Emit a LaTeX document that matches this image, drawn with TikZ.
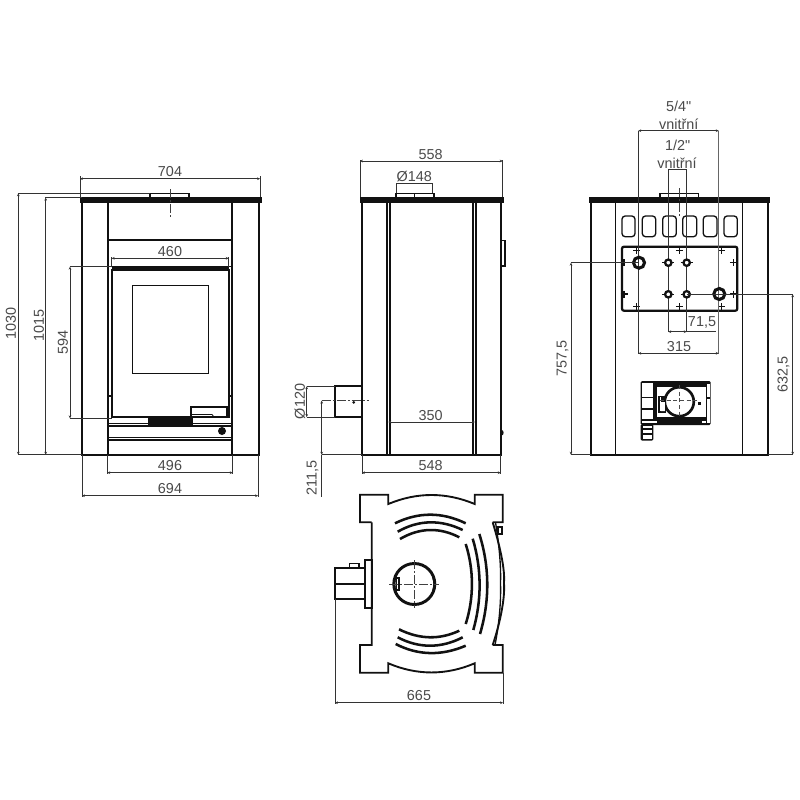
\documentclass[tikz,border=0pt]{standalone}
\usepackage{fontspec}
\setmainfont{Liberation Sans}
\newfontfamily\plainfont{Liberation Sans}
\usetikzlibrary{arrows.meta}
\definecolor{ink}{HTML}{111111}
\definecolor{lab}{HTML}{4A4A4A}
\tikzset{
 x=0.75pt,y=-0.75pt,
 outl/.style={draw=ink,line width=1.4pt},
 thk/.style={draw=ink,line width=2.2pt},
 med/.style={draw=ink,line width=1pt},
 thn/.style={draw=ink,line width=0.6pt},
 rib/.style={draw=ink,line width=1.9pt},
 blk/.style={fill=ink,draw=ink,line width=0.3pt},
 ext/.style={draw=black!80,line width=0.6pt},
 dimn/.style={draw=black!80,line width=0.6pt,{Stealth[length=2.2pt,width=2pt]}-{Stealth[length=2.2pt,width=2pt]}},
 cen/.style={draw=black!75,line width=0.5pt,dash pattern=on 7pt off 1.5pt on 1.2pt off 1.5pt},
 lbl/.style={text=lab,font=\fontsize{10.8pt}{12pt}\selectfont,inner sep=0pt},
 lblr/.style={lbl,rotate=90},
}
\begin{document}
\begin{tikzpicture}
\useasboundingbox[fill=white] (0,0) rectangle (800,800);

% ===== FRONT VIEW =====
\draw[blk] (80,197.3) rectangle (261,202);
\draw[med] (150,197) |- (189,193.5) -- (189,197);
\draw[outl] (82,202) -- (82,454.7) -- (258.7,454.7) -- (258.7,202);
\draw[thk] (108,202) -- (108,240) -- (232,240) -- (232,202);
\draw[med] (108,240) -- (108,454);
\draw[med] (232,240) -- (232,454);
\draw[thk] (108,438) -- (108,454.7);
\draw[thk] (232,438) -- (232,454.7);
\draw[cen] (170,189) -- (170,217);
% door
\draw[med] (108,266.5) -- (232,266.5);
\draw[outl] (111.7,270) rectangle (228.7,416.7);
\draw[med] (111.7,268) -- (228.7,268);
\draw[thn] (229,270) -- (229,397);
\draw[med] (132.3,285.3) rectangle (208.3,373.3);
\draw[outl] (191,417) -- (191,406.7) -- (227,406.7) -- (227,417);
\draw[thn] (191,414.5) -- (212,414.5) -- (214,417);
\draw[med] (108,396) -- (111,396);
\draw[med] (232,396) -- (229,396);
\draw[blk] (148,418) rectangle (192,424);
\draw[thn] (108,423.5) -- (232,423.5);
\draw[outl] (108,426) -- (232,426);
\draw[outl] (108,437.5) -- (232,437.5);
\draw[outl] (108,440) -- (232,440);
\fill[ink] (222,431) circle (4);
% front dimensions
\draw[ext] (80,197) -- (80,176);
\draw[ext] (260,197) -- (260,176);
\draw[dimn] (80,178.7) -- (260,178.7);
\node[lbl] (d704) at (170,172) {704};
\draw[ext] (18,193.3) -- (150,193.3);
\draw[ext] (18,454.7) -- (82,454.7);
\draw[dimn] (18.3,193.3) -- (18.3,454.7);
\node[lblr] (d1030) at (11,323) {1030};
\draw[ext] (45,197.5) -- (82,197.5);
\draw[dimn] (45.7,197.7) -- (45.7,454.7);
\node[lblr] (d1015) at (39,325) {1015};
\draw[ext] (70,266.7) -- (112,266.7);
\draw[ext] (70,418.3) -- (112,418.3);
\draw[dimn] (70,266.7) -- (70,418.3);
\node[lblr] (d594) at (63,342) {594};
\draw[ext] (111.7,257) -- (111.7,267);
\draw[ext] (228.7,257) -- (228.7,267);
\draw[dimn] (111.7,258.3) -- (228.7,258.3);
\node[lbl] (d460) at (170,251.5) {460};
\draw[ext] (107.7,455) -- (107.7,474);
\draw[ext] (232.7,455) -- (232.7,474);
\draw[dimn] (107.3,472.7) -- (232.7,472.7);
\node[lbl] (d496) at (170,466) {496};
\draw[ext] (82,455) -- (82,497);
\draw[ext] (258,455) -- (258,497);
\draw[dimn] (82,495.7) -- (258,495.7);
\node[lbl] (d694) at (170,489) {694};

% ===== SIDE VIEW =====
\draw[blk] (360,197.3) rectangle (502.7,202);
\draw[med] (396,197) |- (434,193.3) -- (434,197);
\draw[thn] (414.7,193.5) -- (414.7,197);
\draw[outl] (362,202) -- (362,454.7) -- (500.7,454.7) -- (500.7,202);
\draw[med] (387,202) -- (387,454.7);
\draw[med] (390,202) -- (390,454.7);
\draw[med] (473,202) -- (473,454.7);
\draw[med] (476,202) -- (476,454.7);
\draw[med] (500.7,240.7) -| (505,266) -- (500.7,266);
\fill[ink] (502,432.7) ellipse (1.6 and 2.6);
\draw[outl] (362,386.3) -- (334.7,386.3) -- (334.7,417) -- (362,417);
\draw[cen] (321.7,400.7) -- (369.3,400.7);
\fill[ink] (353.7,402.3) circle (1.5);
% side dimensions
\draw[ext] (360,160) -- (360,197);
\draw[ext] (502.7,160) -- (502.7,197);
\draw[dimn] (360,161) -- (502.7,161);
\node[lbl] (d558) at (430.7,155) {558};
\draw[ext] (396,183) -- (396,193);
\draw[ext] (432.7,183) -- (432.7,193);
\draw[ext] (396,183.3) -- (432.7,183.3);
\node[lbl] (d148) at (414.3,176.7) {Ø148};
\draw[dimn] (388.3,422) -- (475,422);
\node[lbl] (d350) at (430.7,415.7) {350};
\draw[ext] (306.7,386.3) -- (334.7,386.3);
\draw[ext] (306.7,417) -- (334.7,417);
\draw[dimn] (306.7,386.3) -- (306.7,417);
\node[lblr] (d120) at (300,401.5) {Ø120};
\draw[ext] (321.7,454.7) -- (362,454.7);
\draw[dimn] (321.7,400.7) -- (321.7,454.7);
\draw[ext] (321.7,454.7) -- (321.7,497);
\node[lblr] (d2115) at (312.5,478) {211,5};
\draw[ext] (362,455) -- (362,474);
\draw[ext] (500.7,455) -- (500.7,474);
\draw[dimn] (362,472.7) -- (500.7,472.7);
\node[lbl] (d548) at (430.7,466) {548};

% ===== REAR VIEW =====
\draw[blk] (589.3,197.3) rectangle (769.3,202);
\draw[med] (660,197) |- (698.7,193.3) -- (698.7,197);
\draw[outl] (590.7,202) -- (590.7,454.7) -- (768,454.7) -- (768,202);
\draw[med] (615.7,202) -- (615.7,454.7);
\draw[med] (742.7,202) -- (742.7,454.7);
\draw[cen] (679,188) -- (679,216.7);
\foreach \a/\b in {622/635,642.3/655.7,662.7/676.3,682.7/696.7,703.3/717,724/737.3}
  \draw[med,rounded corners=2.4pt] (\a,216) rectangle (\b,236.7);
\draw[draw=ink,line width=1.7pt,rounded corners=1.5pt] (622,246.7) rectangle (737.3,310.7);
% plate crosses
\foreach \p/\q in {636.7/250.7,679.3/250.7,721.7/250.7,624/262.7,733.3/262.7,624/294,733.3/294,636.7/306.7,679.3/306.7,721.7/306.7}{
  \draw[med] (\p-3.5,\q) -- (\p+3.5,\q);
  \draw[med] (\p,\q-3.5) -- (\p,\q+3.5);
}
% dim lines through plate
\draw[ext] (638.3,130.7) -- (638.3,354);
\draw[draw=black!60,line width=0.8pt] (718.7,130.7) -- (718.7,354);
\draw[dimn] (638.3,130.7) -- (718.7,130.7);
\node[lbl] (d54) at (678.7,106) {5/4{\plainfont"}};
\node[lbl] (dv1) at (678.7,124.3) {vnitřní};
\draw[ext] (668.3,169.3) -- (668.3,332);
\draw[ext] (686.7,169.3) -- (686.7,332);
\draw[ext] (668.3,169.3) -- (686.7,169.3);
\node[lbl] (d12) at (677.7,145) {1/2{\plainfont"}};
\node[lbl] (dv2) at (677,163.3) {vnitřní};
\draw[dimn] (668.3,331.7) -- (686.7,331.7);
\draw[ext] (686.7,331.7) -- (716,331.7);
\node[lbl] (d715) at (702,322.7) {71,5};
\draw[dimn] (638.3,353.3) -- (718.7,353.3);
\node[lbl] (d315) at (679,346.5) {315};
% connections
\foreach \p/\q in {668.3/262.7,686.7/262.7,668.3/294.3,686.7/294.3}{
  \draw[thn] (\p-6,\q) -- (\p+6,\q);
  \draw[draw=ink,line width=1.7pt,fill=white] (\p,\q) circle (3.2);
}
\foreach \p/\q in {639/262.7,719.3/294}
  \draw[draw=ink,line width=2.3pt] (\p,\q) circle (5.5);
% firebox module
\fill[ink,rounded corners=1pt] (640.7,381) rectangle (710.7,425);
\fill[white] (656.5,386.5) rectangle (705.5,416.5);
\fill[white] (707,384) rectangle (709.5,397);
\fill[white] (707,398.5) rectangle (709.5,422.5);
\fill[white] (642,383) rectangle (653,396.5);
\fill[white] (642,398) rectangle (653,408);
\fill[white] (642,409.5) rectangle (653,419);
\fill[white] (642,421) rectangle (656.5,423);
\fill[white] (702,421) rectangle (706,423);
\draw[draw=ink,line width=2pt,fill=white] (679.3,401.7) circle (14.5);
\draw[draw=ink,line width=1.3pt,fill=white] (659.3,396.5) rectangle (665.5,412);
\fill[ink] (661,396) rectangle (666,402);
\fill[white] (661,407) -- (664,407) -- (665,411) -- (661,411) -- cycle;
\fill[ink] (698,402) rectangle (701,405);
\draw[draw=black!70,line width=0.5pt,densely dashed] (660,400) -- (697,400);
\draw[draw=black!70,line width=0.5pt,densely dashed] (679.3,385) -- (679.3,418);
\fill[ink,rounded corners=1pt] (640.7,424) rectangle (653.3,440.7);
\fill[white] (642.5,425.5) rectangle (651.7,428);
\fill[white] (642.5,430) rectangle (651.7,432.5);
\fill[white] (642.5,434.5) rectangle (651.7,438.5);
% rear dims
\draw[ext] (571,262.7) -- (639,262.7);
\draw[ext] (571,454.7) -- (591,454.7);
\draw[dimn] (571,262.7) -- (571,454.7);
\node[lblr] (d7575) at (562.5,358.3) {757,5};
\draw[ext] (686.7,294.3) -- (792.7,294.3);
\draw[ext] (768,454.7) -- (792.7,454.7);
\draw[dimn] (792.7,294.3) -- (792.7,454.7);
\node[lblr] (d6325) at (783.5,374) {632,5};

% ===== TOP VIEW =====
\draw[outl] (371.7,522.3) -- (360,522.3) -- (360,494.7) -- (388.3,494.7) -- (388.3,504)
  .. controls (417,492) and (446,492) .. (474.7,504)
  -- (474.7,494.7) -- (502.7,494.7) -- (502.7,522.3) -- (492.7,522.3);
\draw[outl] (492.7,645) -- (502.7,645) -- (502.7,672.7) -- (474.7,672.7) -- (474.7,663.3)
  .. controls (446,675.5) and (417,675.5) .. (388.3,663.3)
  -- (388.3,672.7) -- (360,672.7) -- (360,645) -- (371.7,645) -- (371.7,522.3);
\draw[outl] (492.7,522.3) .. controls (501,550) and (505,570) .. (504,583.5)
  .. controls (505,597) and (501,620) .. (492.7,645);
\draw[med] (495.5,522.3) .. controls (500,550) and (501,570) .. (500.5,583.5)
  .. controls (501,597) and (500,620) .. (495,645);
\draw[med] (498,527) rectangle (502,534);
% ribs
\draw[rib] (395,523.3) .. controls (418.5,511.8) and (442,511.8) .. (465.7,523.3);
\draw[rib] (397.7,531.7) .. controls (419,519.5) and (441,519.5) .. (462.7,530);
\draw[rib] (400,539) .. controls (420,527.3) and (440,527.3) .. (459.3,537.3);
\draw[rib] (399,629.3) .. controls (420,639.7) and (440,639.7) .. (459.3,630.7);
\draw[rib] (397.7,637.3) .. controls (419,648.5) and (441,648.5) .. (462.7,637.3);
\draw[rib] (395.7,644) .. controls (418.5,655.8) and (442,655.8) .. (465.7,645.7);
\draw[rib] (465.7,544) .. controls (474,570) and (474,598) .. (465.7,624);
\draw[rib] (472.7,538.7) .. controls (481.8,569) and (481.8,600) .. (473.3,630);
\draw[rib] (479.3,534) .. controls (489.8,567) and (489.8,601) .. (480,634);
% flue circle
\draw[draw=ink,line width=2.2pt] (414.3,584) circle (20.5);
\draw[draw=ink,line width=0.8pt] (397,574) .. controls (394,580) and (394,588) .. (397,594);
\draw[draw=ink,line width=0.8pt] (396.5,578) rectangle (399,590);
\draw[draw=ink,line width=1.8pt] (433.5,578) .. controls (435,582) and (435,586) .. (433.5,590);
\draw[cen] (389,584) -- (439,584);
\draw[cen] (414.3,560) -- (414.3,608);
% flue stub
\draw[outl] (365.3,560) rectangle (371.7,608.3);
\draw[outl] (365.3,568.3) -- (335,568.3) -- (335,599.3) -- (365.3,599.3);
\draw[med] (335,584) -- (365.3,584);
\draw[med] (349.3,568.3) |- (359,563.3) -- (359,568.3);
% dim 665
\draw[ext] (335,599.3) -- (335,704);
\draw[ext] (503,672.7) -- (503,704);
\draw[dimn] (335,702.7) -- (503,702.7);
\node[lbl] (d665) at (419,696) {665};
\end{tikzpicture}
\end{document}
